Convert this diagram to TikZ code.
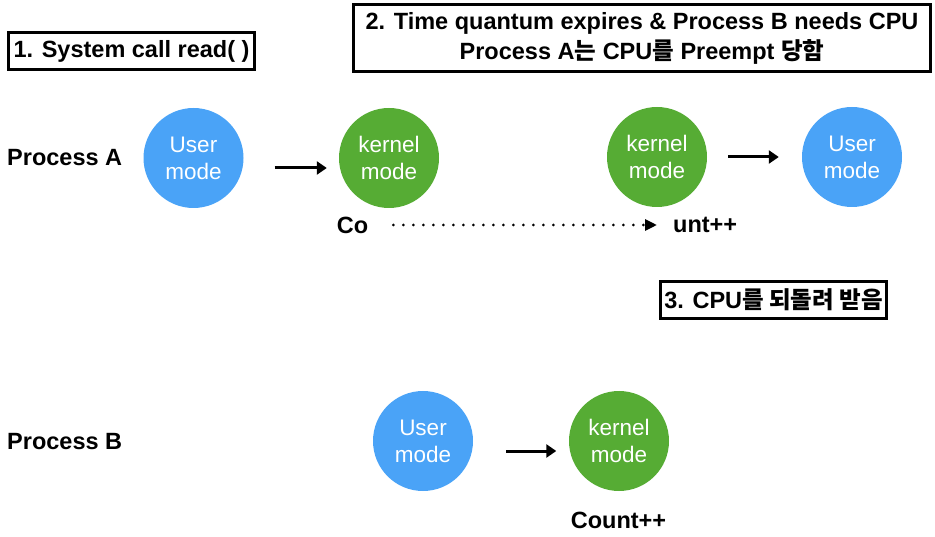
\documentclass[tikz,border=0pt]{standalone}
\usepackage{fontspec}
\setmainfont{Liberation Sans}
\newfontfamily\ko{Noto Sans CJK KR}
\usetikzlibrary{arrows.meta}
\definecolor{ublue}{RGB}{74,163,247}
\definecolor{kgreen}{RGB}{86,172,52}
\newcommand{\kr}[1]{{\ko\bfseries #1}}
\begin{document}
\begin{tikzpicture}[x=1pt,y=-1pt,
  umode/.style={circle, fill=ublue, minimum size=100pt, inner sep=0pt, text=white, font=\fontsize{22.5}{27}\selectfont, align=center},
  kmode/.style={umode, fill=kgreen},
  lbl/.style={font=\fontsize{23.5}{26}\selectfont\bfseries, inner sep=0pt},
  note/.style={draw, line width=3pt, inner sep=0pt, align=center, font=\fontsize{23.5}{30}\selectfont\bfseries},
  arr/.style={line width=3pt, -{Triangle[length=10pt,width=13pt]}},
  dotarr/.style={line width=3pt, line cap=round, dash pattern=on 0pt off 10pt, -{Triangle[length=12pt,width=11pt]}}]
\useasboundingbox (0,0) rectangle (935,537);
% circles
\node[umode] (ua)  at (193.5,158) {User\\mode};
\node[kmode] (ka)  at (389,158)   {kernel\\mode};
\node[kmode] (ka2) at (657,157)   {kernel\\mode};
\node[umode] (ua2) at (852,157)   {User\\mode};
\node[umode] (ub)  at (423,441)   {User\\mode};
\node[kmode] (kb)  at (619,441)   {kernel\\mode};
% labels
\node[lbl, anchor=west] (pa) at (7,158) {Process A};
\node[lbl, anchor=west] (pb) at (7,442) {Process B};
\node[lbl] (co) at (352.5,225) {Co};
\node[lbl, anchor=west] (unt) at (673,225) {unt++};
\node[lbl] (cnt) at (618.5,520) {Count++};
% notes
\node[note, minimum width=246pt, minimum height=37pt] (n1) at (131.5,51) {1. System call read( )};
\node[note, minimum width=577pt, minimum height=67pt] (n2) at (642,38) {2. Time quantum expires \& Process B needs CPU\\Process A\kr{는} CPU\kr{를} Preempt \kr{당함}};
\node[note, minimum width=226pt, minimum height=37pt] (n3) at (773.5,300) {3. CPU\kr{를 되돌려 받음}};
% arrows
\draw[arr] ([xshift=31pt,yshift=-10pt]ua.east) -- ([xshift=-12pt,yshift=-10pt]ka.west);
\draw[arr] ([xshift=21pt]ka2.east) -- ([xshift=-23pt]ua2.west);
\draw[arr] ([xshift=33pt,yshift=-10pt]ub.east) -- ([xshift=-12.5pt,yshift=-10pt]kb.west);
\draw[dotarr] ([xshift=25pt]co.east) -- ([xshift=-16pt]unt.west);
\end{tikzpicture}
\end{document}
